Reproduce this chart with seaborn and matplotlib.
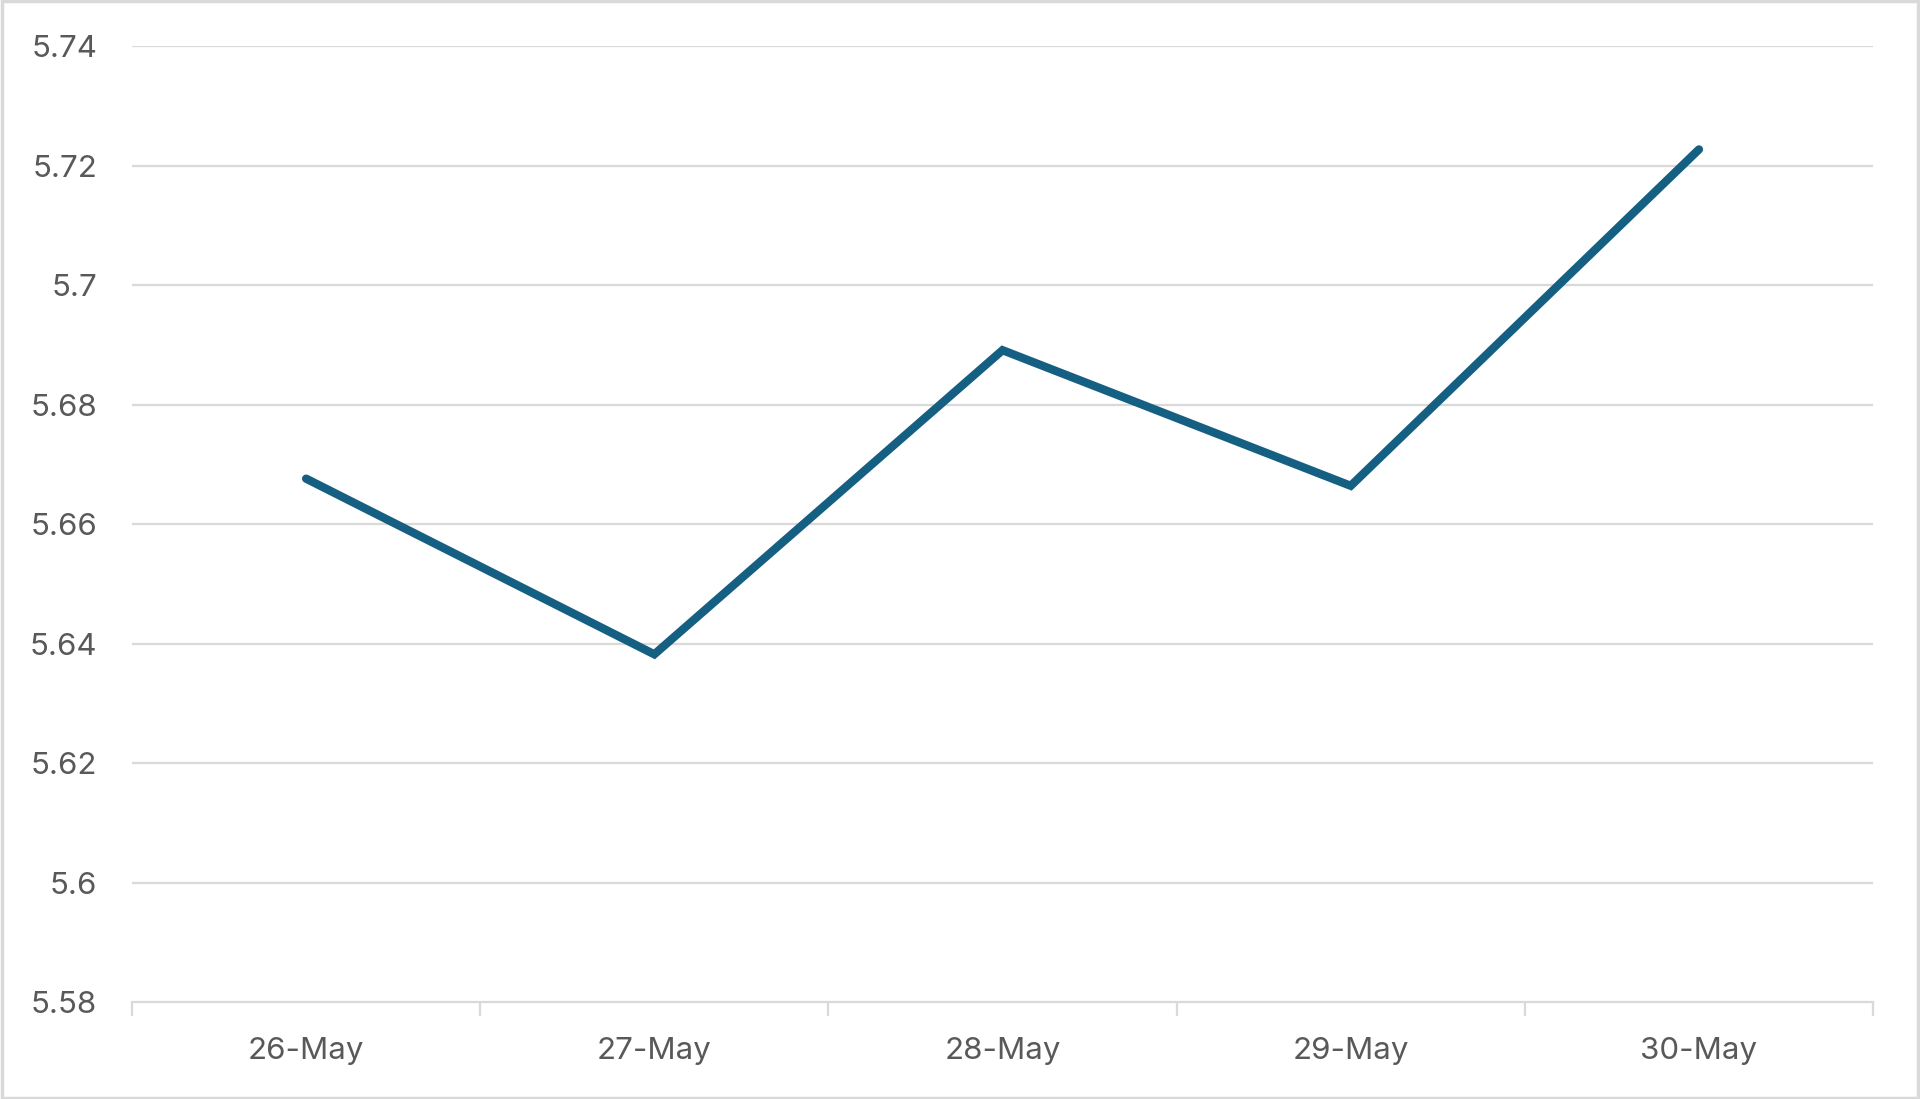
import matplotlib.pyplot as plt
import seaborn as sns
import pandas as pd
from matplotlib.patches import Rectangle

# Data
dates = ['26-May', '27-May', '28-May', '29-May', '30-May']
values = [5.6676, 5.6382, 5.6891, 5.6664, 5.7227]
yticks = [5.58, 5.6, 5.62, 5.64, 5.66, 5.68, 5.7, 5.72, 5.74]
ytick_labels = ['5.58', '5.6', '5.62', '5.64', '5.66', '5.68', '5.7', '5.72', '5.74']

df = pd.DataFrame({'date': dates, 'value': values})

sns.set_style('white')
plt.rcParams['font.family'] = ['Inter', 'DejaVu Sans']

fig = plt.figure(figsize=(19.2, 10.99), dpi=100)
ax = fig.add_axes([0.06875, 0.0882, 0.9068, 0.8699])

sns.lineplot(df, x='date', y='value', ax=ax, color='#156082',
             linewidth=6, solid_capstyle='round', solid_joinstyle='miter')

ax.set_xlim(-0.5, 4.5)
ax.set_ylim(5.58, 5.74)
ax.set_yticks(yticks)
ax.set_yticklabels(ytick_labels)
ax.set(xlabel='', ylabel='')

# gridlines
for y in yticks[1:]:
    ax.axhline(y, color='#d9d9d9', linewidth=1.6, zorder=0)

for s in ['top', 'right', 'left']:
    ax.spines[s].set_visible(False)
ax.spines['bottom'].set_color('#d9d9d9')
ax.spines['bottom'].set_linewidth(1.6)

# category boundary ticks
ax.set_xticks([i - 0.5 for i in range(6)], minor=True)
ax.tick_params(axis='x', which='minor', length=10, width=1.6, color='#d9d9d9',
               bottom=True)
ax.tick_params(axis='x', which='major', length=0, pad=25, labelsize=22.5,
               labelcolor='#595959')
ax.tick_params(axis='y', length=0, pad=25, labelsize=22.5, labelcolor='#595959')

# outer frame
fig.patches.append(Rectangle((0.001, 0.001), 0.998, 0.998, transform=fig.transFigure,
                             fill=False, edgecolor='#d9d9d9', linewidth=2.5))

fig.savefig('out.png', dpi=100)
